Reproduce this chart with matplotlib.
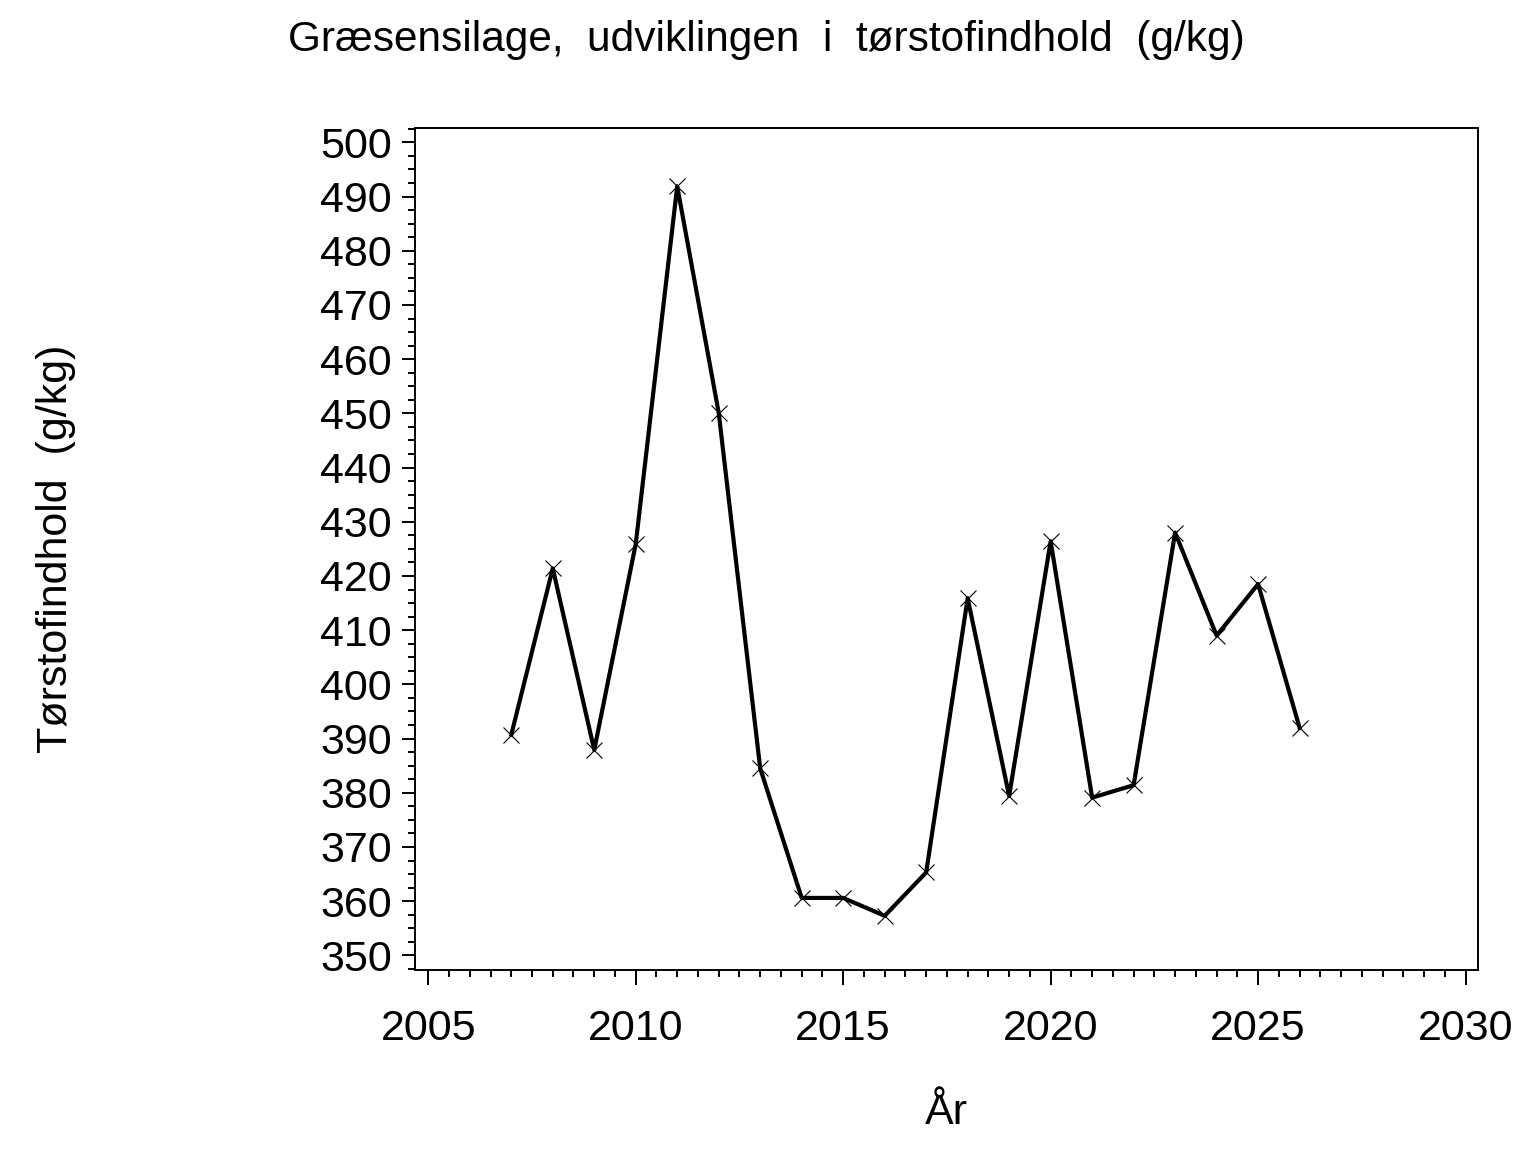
import matplotlib
matplotlib.use("Agg")
import matplotlib.pyplot as plt
from matplotlib.ticker import MultipleLocator

# data
years = [2007, 2008, 2009, 2010, 2011, 2012, 2013, 2014, 2015, 2016,
         2017, 2018, 2019, 2020, 2021, 2022, 2023, 2024, 2025, 2026]
ts_values = [390.7, 421.4, 387.9, 425.9, 491.9, 450.1, 384.5, 360.6, 360.6, 357.3,
             365.3, 415.9, 379.4, 426.4, 379.1, 381.4, 428.0, 409.0, 418.5, 392.0]

title_text = "Græsensilage,  udviklingen  i  tørstofindhold  (g/kg)"
y_label = "Tørstofindhold  (g/kg)"
x_label = "År"

plt.rcParams['font.family'] = ['Liberation Sans', 'DejaVu Sans']

fig = plt.figure(figsize=(15.36, 11.52), dpi=100)
ax = fig.add_axes([415 / 1536, 1 - 970 / 1152, (1478 - 415) / 1536, (970 - 128.3) / 1152])

ax.plot(years, ts_values, color='black', linewidth=3.0,
        marker='x', markersize=11.5, markeredgewidth=0.8, zorder=3)

ax.set_xlim(2004.68, 2030.3)
ax.set_ylim(347.3, 502.6)

ax.xaxis.set_major_locator(MultipleLocator(5))
ax.xaxis.set_minor_locator(MultipleLocator(0.5))
ax.yaxis.set_major_locator(MultipleLocator(10))
ax.yaxis.set_minor_locator(MultipleLocator(2.5))

ax.tick_params(axis='both', which='both', direction='out', width=1.4,
               top=False, right=False, labelsize=31, colors='black')
ax.tick_params(axis='y', which='major', length=9.5, pad=7)
ax.tick_params(axis='y', which='minor', length=5)
ax.tick_params(axis='x', which='major', length=11, pad=17)
ax.tick_params(axis='x', which='minor', length=5)

for sp in ax.spines.values():
    sp.set_linewidth(1.4)
    sp.set_color('black')

ax.set_xlabel(x_label, fontsize=31, labelpad=32)
ax.set_ylabel(y_label, fontsize=31, labelpad=176)

fig.text(766 / 1536, 1 - 40 / 1152, title_text, fontsize=30.5,
         ha='center', va='center')

fig.savefig("out.png", dpi=100, facecolor='white')
